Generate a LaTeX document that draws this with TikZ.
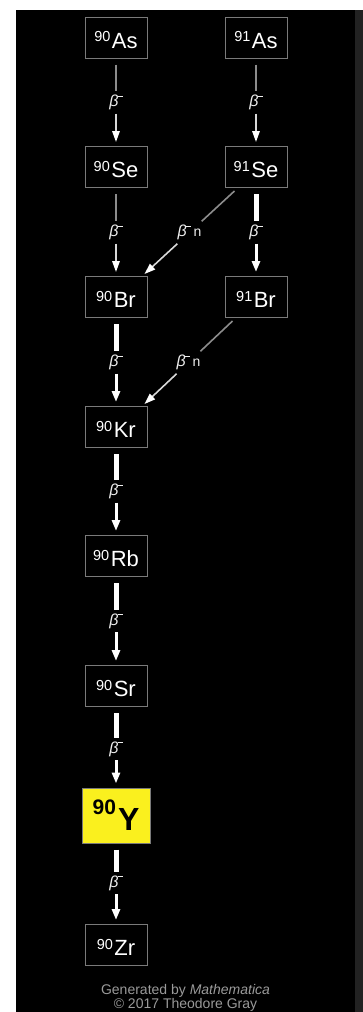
\documentclass[tikz,border=0pt]{standalone}
\usepackage{fontspec}
\setmainfont{Liberation Sans}
\usetikzlibrary{arrows.meta,calc}
\definecolor{boxline}{HTML}{7A7A7A}
\definecolor{upc}{HTML}{8C8C8C}
\definecolor{downc}{HTML}{D8D8D8}
\definecolor{labc}{HTML}{EEEEEE}
\definecolor{genc}{HTML}{9A9A9A}
\definecolor{ybox}{HTML}{FAF01E}
\definecolor{bandc}{HTML}{222222}
\newcommand{\iso}[2]{{\fontsize{14.5}{14.5}\selectfont\raisebox{6.5pt}{#1}}\hspace{1.5pt}{\fontsize{22}{22}\selectfont #2}}
\newcommand{\betam}{{\fontsize{16}{16}\selectfont\itshape β\hspace{-1pt}\raisebox{10pt}{\rule{5pt}{0.9pt}}}}
\begin{document}
\begin{tikzpicture}[x=1pt,y=-1pt,
  iso/.style={draw=boxline, line width=1pt, fill=black, text=white,
    minimum width=62pt, minimum height=41pt, inner sep=0pt,
    text height=21.5pt, text depth=0pt},
  isoy/.style={draw=boxline, line width=1pt, fill=ybox, text=black,
    minimum width=68pt, minimum height=55pt, inner sep=0pt,
    text height=29pt, text depth=0pt},
  lab/.style={text=labc, inner sep=0pt, minimum width=16pt, minimum height=22pt},
  dlab/.style={text=labc, inner sep=0pt, minimum width=30pt, minimum height=22pt},
  thinup/.style={draw=upc, line width=1.6pt},
  thindown/.style={draw=downc, line width=1.6pt, -{Triangle[width=7.5pt,length=11pt,fill=white,color=white]}},
  thickup/.style={draw=white, line width=5pt},
  thickdown/.style={draw=white, line width=3pt, -{Triangle[width=8pt,length=11pt,fill=white,color=white]}}
]
\useasboundingbox (0,0) rectangle (363,1012);
\clip (0,0) rectangle (363,1012);
\fill[white] (0,0) rectangle (363,1012);
\fill[bandc] (16,10) rectangle (363,1012);
\fill[black] (16,10) rectangle (355,1012);

% isotope boxes
\node[iso] (as90) at (116,37.5) {\iso{90}{As}};
\node[iso] (as91) at (256,37.5) {\iso{91}{As}};
\node[iso] (se90) at (116,167) {\iso{90}{Se}};
\node[iso] (se91) at (256,167) {\iso{91}{Se}};
\node[iso] (br90) at (116,297) {\iso{90}{Br}};
\node[iso] (br91) at (256,297) {\iso{91}{Br}};
\node[iso] (kr90) at (116,427) {\iso{90}{Kr}};
\node[iso] (rb90) at (116,556) {\iso{90}{Rb}};
\node[iso] (sr90) at (116,686) {\iso{90}{Sr}};
\node[isoy] (y90) at (116,815.5) {{\bfseries\fontsize{21}{21}\selectfont\raisebox{16pt}{90}}\hspace{2pt}{\bfseries\fontsize{32}{32}\selectfont Y}};
\node[iso] (zr90) at (116,945) {\iso{90}{Zr}};

% thin vertical decays
\node[lab] (l1) at (116,102.5) {\betam};
\draw[thinup, shorten <=6pt] (as90.south) -- (l1.north);
\draw[thindown, shorten >=4pt] (l1.south) -- (se90.north);

\node[lab] (l2) at (256,102.5) {\betam};
\draw[thinup, shorten <=6pt] (as91.south) -- (l2.north);
\draw[thindown, shorten >=4pt] (l2.south) -- (se91.north);

\node[lab] (l3) at (116,232.5) {\betam};
\draw[thinup, shorten <=6pt] (se90.south) -- (l3.north);
\draw[thindown, shorten >=4pt] (l3.south) -- (br90.north);

% thick vertical decays
\node[lab] (l4) at (256,232.5) {\betam};
\draw[thickup, shorten <=6pt] (se91.south) -- (l4.north);
\draw[thickdown, shorten >=4pt] (l4.south) -- (br91.north);

\node[lab] (l6) at (116,362.5) {\betam};
\draw[thickup, shorten <=6pt] (br90.south) -- (l6.north);
\draw[thickdown, shorten >=4pt] (l6.south) -- (kr90.north);

\node[lab] (l8) at (116,491.5) {\betam};
\draw[thickup, shorten <=6pt] (kr90.south) -- (l8.north);
\draw[thickdown, shorten >=4pt] (l8.south) -- (rb90.north);

\node[lab] (l9) at (116,621) {\betam};
\draw[thickup, shorten <=6pt] (rb90.south) -- (l9.north);
\draw[thickdown, shorten >=4pt] (l9.south) -- (sr90.north);

\node[lab] (l10) at (116,749) {\betam};
\draw[thickup, shorten <=6pt] (sr90.south) -- (l10.north);
\draw[thickdown, shorten >=4pt] (l10.south) -- (y90.north);

\node[lab] (l11) at (116,883) {\betam};
\draw[thickup, shorten <=6pt] (y90.south) -- (l11.north);
\draw[thickdown, shorten >=4pt] (l11.south) -- (zr90.north);

% diagonal beta-n decays
\coordinate (d1s) at ($(se91.south west)+(10,3)$);
\coordinate (d1e) at ($(br90.north east)+(-3,-2)$);
\node[dlab] (l5) at ($(d1s)!0.5!(d1e)$) {\betam\hspace{3pt}{\fontsize{14}{14}\selectfont n}};
\draw[thinup] (d1s) -- (l5);
\draw[thindown] (l5) -- (d1e);

\coordinate (d2s) at ($(br91.south west)+(8,3)$);
\coordinate (d2e) at ($(kr90.north east)+(-3,-2)$);
\node[dlab] (l7) at ($(d2s)!0.5!(d2e)$) {\betam\hspace{3pt}{\fontsize{14}{14}\selectfont n}};
\draw[thinup] (d2s) -- (l7);
\draw[thindown] (l7) -- (d2e);

% credits
\node[text=genc, anchor=base, inner sep=0pt] (gen) at (185.5,994.5) {\fontsize{14}{14}\selectfont Generated by \textit{Mathematica}};
\node[text=genc, anchor=base, inner sep=0pt] (cpy) at (185.5,1008.5) {\fontsize{14}{14}\selectfont © 2017 Theodore Gray};
\end{tikzpicture}
\end{document}
